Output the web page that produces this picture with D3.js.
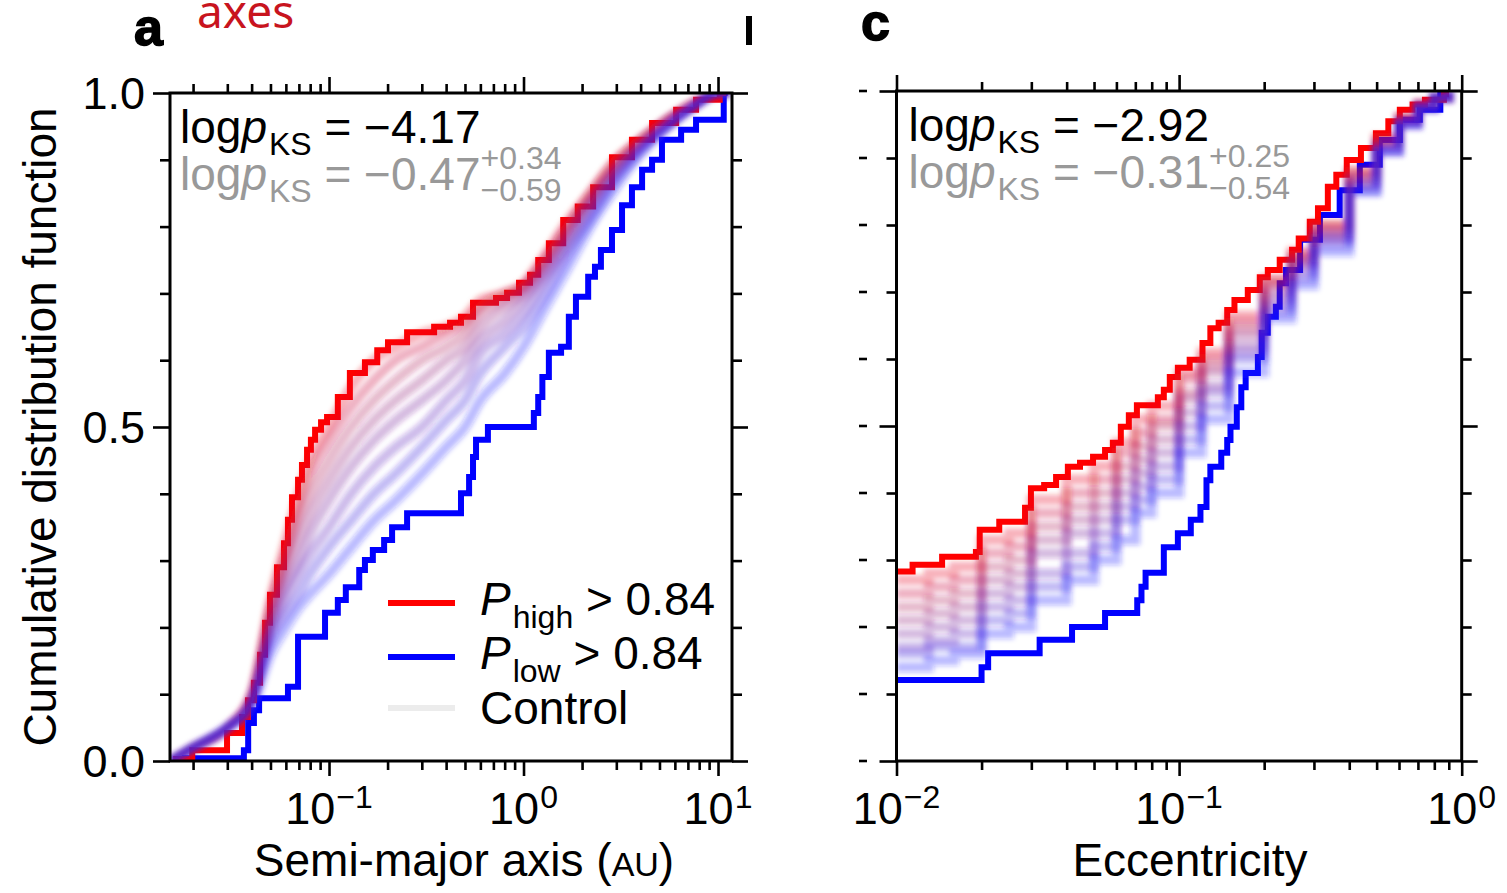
<!DOCTYPE html>
<html>
<head>
<meta charset="utf-8">
<script src="https://cdn.jsdelivr.net/npm/d3@7"></script>
<style>
  body { margin: 0; background: #fff; }
  svg { display: block; font-family: "Liberation Sans", Arial, Helvetica, sans-serif; }
  text { white-space: pre; }
</style>
</head>
<body>
<svg id="chart" width="1507" height="893"></svg>
<script>
// ---- data ----
// panel a: semi-major axis (AU) vs CDF, [a, F] step points
const aHigh = [[0.0158,0.003],[0.0198,0.016],[0.0299,0.042],[0.0357,0.066],[0.0383,0.091],[0.0411,0.117],
  [0.0442,0.159],[0.0469,0.207],[0.0497,0.249],[0.0540,0.290],[0.0587,0.326],[0.0615,0.361],[0.0645,0.395],
  [0.0693,0.421],[0.0726,0.443],[0.0771,0.466],[0.0807,0.481],[0.0848,0.496],[0.0910,0.507],[0.0977,0.515],
  [0.111,0.545],[0.128,0.581],[0.153,0.597],[0.177,0.615],[0.201,0.627],[0.252,0.642],[0.347,0.650],
  [0.419,0.656],[0.477,0.665],[0.550,0.686],[0.722,0.693],[0.823,0.701],[0.948,0.716],[1.08,0.728],
  [1.19,0.750],[1.35,0.775],[1.60,0.810],[1.9,0.830],[2.28,0.859],[2.85,0.904],[3.61,0.930],[4.58,0.955],
  [6.09,0.975],[7.71,0.990],[10.2,1.0],[11.0,1.0]];
const aLow = [[0.0175,0.004],[0.0365,0.016],[0.0384,0.057],[0.0411,0.076],[0.0437,0.094],[0.0615,0.111],
  [0.0693,0.186],[0.0954,0.222],[0.111,0.241],[0.122,0.260],[0.143,0.286],[0.153,0.301],[0.168,0.316],
  [0.192,0.331],[0.211,0.350],[0.252,0.371],[0.477,0.401],[0.525,0.425],[0.550,0.455],[0.570,0.481],
  [0.656,0.500],[1.13,0.521],[1.19,0.545],[1.25,0.575],[1.35,0.611],[1.56,0.620],[1.71,0.665],[1.86,0.695],
  [2.15,0.725],[2.33,0.740],[2.50,0.765],[2.85,0.795],[3.21,0.832],[3.61,0.859],[4.07,0.885],[4.58,0.900],
  [5.15,0.930],[6.46,0.945],[7.71,0.960],[10.7,1.0],[11.2,1.0]];
// control samples: values on a shared grid
const aGrid = [0.0153, 0.02, 0.03, 0.04, 0.05, 0.06, 0.07, 0.08, 0.1, 0.13, 0.17, 0.22, 0.3, 0.4, 0.5,
  0.6, 0.8, 1.0, 1.3, 1.7, 2.2, 3, 4, 5.5, 7.5, 10, 11.5];
const aControl = [
  [0.0,0.02,0.05,0.10,0.24,0.33,0.40,0.45,0.50,0.56,0.60,0.62,0.64,0.65,0.665,0.69,0.70,0.715,0.76,0.81,0.85,0.90,0.93,0.96,0.985,1.0,1.0],
  [0.0,0.02,0.05,0.10,0.23,0.31,0.38,0.43,0.48,0.53,0.57,0.60,0.62,0.64,0.655,0.68,0.70,0.71,0.75,0.80,0.85,0.90,0.93,0.96,0.985,1.0,1.0],
  [0.0,0.02,0.05,0.10,0.22,0.30,0.36,0.40,0.45,0.50,0.54,0.57,0.60,0.62,0.64,0.67,0.69,0.71,0.75,0.80,0.84,0.89,0.93,0.96,0.985,1.0,1.0],
  [0.0,0.02,0.05,0.09,0.21,0.28,0.33,0.37,0.42,0.47,0.51,0.54,0.57,0.60,0.62,0.65,0.68,0.70,0.74,0.79,0.84,0.89,0.92,0.96,0.98,1.0,1.0],
  [0.0,0.02,0.05,0.09,0.20,0.26,0.30,0.34,0.39,0.44,0.48,0.51,0.54,0.57,0.60,0.63,0.66,0.69,0.73,0.78,0.83,0.88,0.92,0.95,0.98,1.0,1.0],
  [0.0,0.02,0.05,0.09,0.19,0.24,0.28,0.31,0.35,0.40,0.44,0.47,0.50,0.54,0.57,0.61,0.64,0.67,0.72,0.77,0.82,0.88,0.92,0.95,0.98,1.0,1.0],
  [0.0,0.02,0.05,0.09,0.18,0.22,0.25,0.28,0.32,0.36,0.40,0.43,0.47,0.51,0.54,0.58,0.62,0.65,0.70,0.76,0.81,0.87,0.91,0.95,0.98,1.0,1.0],
  [0.0,0.02,0.05,0.08,0.16,0.20,0.23,0.25,0.28,0.32,0.36,0.39,0.43,0.47,0.50,0.54,0.58,0.62,0.68,0.74,0.80,0.86,0.91,0.95,0.98,1.0,1.0]
];

// panel c: eccentricity vs CDF
const cHigh = [[0.01,0.283],[0.0114,0.293],[0.0145,0.305],[0.0191,0.312],[0.0197,0.345],[0.0231,0.357],
  [0.0285,0.378],[0.0299,0.407],[0.0333,0.412],[0.0367,0.424],[0.0404,0.439],[0.0446,0.445],[0.0496,0.454],
  [0.0547,0.464],[0.0583,0.475],[0.0622,0.499],[0.0664,0.516],[0.0709,0.531],[0.0841,0.543],[0.0883,0.554],
  [0.0927,0.573],[0.0990,0.587],[0.109,0.599],[0.121,0.624],[0.129,0.646],[0.138,0.654],[0.148,0.673],
  [0.157,0.688],[0.175,0.703],[0.193,0.722],[0.206,0.733],[0.227,0.748],[0.251,0.763],[0.265,0.78],
  [0.29,0.805],[0.31,0.825],[0.336,0.857],[0.36,0.875],[0.392,0.897],[0.44,0.915],[0.497,0.937],
  [0.55,0.955],[0.604,0.972],[0.67,0.98],[0.741,0.987],[0.865,0.995],[0.88,1.0],[0.9,1.0]];
const cLow = [[0.01,0.121],[0.0200,0.140],[0.0211,0.161],[0.0321,0.181],[0.0418,0.200],[0.0547,0.221],
  [0.0711,0.240],[0.0736,0.260],[0.0761,0.281],[0.0883,0.319],[0.0990,0.340],[0.110,0.360],[0.119,0.379],
  [0.125,0.419],[0.129,0.439],[0.141,0.460],[0.148,0.479],[0.152,0.499],[0.160,0.528],[0.166,0.558],
  [0.172,0.579],[0.190,0.603],[0.196,0.639],[0.206,0.663],[0.220,0.678],[0.227,0.713],[0.239,0.733],
  [0.268,0.778],[0.315,0.815],[0.370,0.852],[0.436,0.890],[0.513,0.927],[0.604,0.957],[0.711,0.972],
  [0.84,1.0],[0.86,1.0]];
const cGrid = [0.01, 0.013, 0.016, 0.02, 0.025, 0.03, 0.04, 0.05, 0.06, 0.07, 0.08, 0.1, 0.12, 0.15,
  0.2, 0.25, 0.3, 0.4, 0.5, 0.6, 0.7, 0.8, 0.9];
const cControl = [
  [0.27,0.28,0.29,0.33,0.34,0.39,0.42,0.44,0.475,0.51,0.53,0.58,0.61,0.665,0.72,0.76,0.80,0.88,0.93,0.96,0.98,0.99,1.0],
  [0.25,0.26,0.27,0.31,0.32,0.37,0.40,0.42,0.46,0.49,0.51,0.57,0.60,0.655,0.715,0.755,0.80,0.88,0.93,0.96,0.98,0.99,1.0],
  [0.23,0.24,0.25,0.29,0.30,0.35,0.38,0.40,0.44,0.47,0.50,0.55,0.59,0.645,0.71,0.75,0.79,0.87,0.92,0.96,0.98,0.99,1.0],
  [0.21,0.22,0.23,0.27,0.28,0.33,0.36,0.38,0.42,0.45,0.48,0.54,0.58,0.635,0.70,0.745,0.79,0.87,0.92,0.955,0.98,0.99,1.0],
  [0.19,0.20,0.21,0.25,0.26,0.31,0.34,0.36,0.40,0.43,0.46,0.52,0.56,0.62,0.69,0.74,0.78,0.86,0.92,0.955,0.975,0.99,1.0],
  [0.17,0.18,0.19,0.23,0.24,0.28,0.31,0.34,0.38,0.41,0.44,0.50,0.55,0.61,0.68,0.73,0.78,0.86,0.91,0.95,0.975,0.99,1.0],
  [0.16,0.17,0.17,0.21,0.22,0.26,0.29,0.32,0.36,0.39,0.42,0.48,0.53,0.60,0.67,0.72,0.77,0.85,0.91,0.95,0.975,0.99,1.0],
  [0.14,0.15,0.16,0.19,0.20,0.24,0.27,0.30,0.33,0.37,0.40,0.46,0.51,0.58,0.66,0.71,0.76,0.85,0.91,0.95,0.975,0.99,1.0]
];

// ticks and labels
const aMajor = [0.1, 1, 10];
const aMinor = [0.02,0.03,0.04,0.05,0.06,0.07,0.08,0.09,0.2,0.3,0.4,0.5,0.6,0.7,0.8,0.9,2,3,4,5,6,7,8,9];
const aTickExp = ["\u22121", "0", "1"];
const cMajor = [0.01, 0.1, 1];
const cMinor = [0.02,0.03,0.04,0.05,0.06,0.07,0.08,0.09,0.2,0.3,0.4,0.5,0.6,0.7,0.8,0.9];
const cTickExp = ["\u22122", "\u22121", "0"];
const yMajor = [0, 0.5, 1];
const yMinor = [0.1, 0.2, 0.3, 0.4, 0.6, 0.7, 0.8, 0.9];
const yTickText = ["0.0", "0.5", "1.0"];

const ksA = { value: "\u22124.17", ctrl: "\u22120.47", up: "+0.34", down: "\u22120.59" };
const ksC = { value: "\u22122.92", ctrl: "\u22120.31", up: "+0.25", down: "\u22120.54" };

const RED = "#ff0000", BLUE = "#0000ff", GREY = "#999999";

// ---- drawing ----
const svg = d3.select("#chart");
const defs = svg.append("defs");
defs.append("filter").attr("id", "soft").attr("x", "-5%").attr("y", "-5%")
  .attr("width", "110%").attr("height", "110%")
  .append("feGaussianBlur").attr("stdDeviation", 2.4);

function text(g, x, y, str, size, opt = {}) {
  return g.append("text").attr("x", x).attr("y", y).attr("font-size", size)
    .attr("fill", opt.fill || "#000")
    .attr("font-style", opt.italic ? "italic" : null)
    .attr("font-weight", opt.bold ? "bold" : null)
    .attr("text-anchor", opt.anchor || null)
    .text(str);
}

// runs of text placed one after another (mathtext-like)
function rich(g, x, y, parts, fill) {
  let cx = x;
  parts.forEach(p => {
    const t = text(g, cx, y + (p.dy || 0), p.t, p.size || 46, { fill, italic: p.italic });
    const w = t.node().getComputedTextLength();
    if (!p.stay) cx += w + (p.gap || 0);
  });
  return cx;
}

function ksText(g, x, y1, y2, ks) {
  rich(g, x, y1, [
    { t: "log" }, { t: "p", italic: true, gap: 2 }, { t: "KS", size: 32, dy: 12 }, { t: " = " + ks.value }
  ], "#000");
  rich(g, x, y2, [
    { t: "log" }, { t: "p", italic: true, gap: 2 }, { t: "KS", size: 32, dy: 12 }, { t: " = " + ks.ctrl },
    { t: ks.up, size: 32, dy: -21, stay: true }, { t: ks.down, size: 32, dy: 11 }
  ], GREY);
}

function powLabel(g, x, y, exp) {
  const lab = g.append("g");
  const t1 = text(lab, 0, y, "10", 45);
  const w1 = t1.node().getComputedTextLength();
  const t2 = text(lab, w1 + 1, y - 16, exp, 32);
  const w2 = t2.node().getComputedTextLength();
  lab.attr("transform", `translate(${x - (w1 + 1 + w2) / 2},0)`);
}

function tickGroup(g, axis, scale, values, size, tr) {
  g.append("g").attr("transform", tr)
    .call(axis(scale).tickValues(values).tickSize(size).tickFormat(""))
    .call(s => s.select(".domain").remove())
    .call(s => s.selectAll("line").attr("stroke", "#000").attr("stroke-width", 2.6));
}

function drawPanel(p) {
  const [x0, x1] = p.x.range();
  const [y1, y0] = p.y.range();
  const g = svg.append("g");

  defs.append("clipPath").attr("id", "clip-" + p.id).append("rect")
    .attr("x", x0).attr("y", y0).attr("width", x1 - x0).attr("height", y1 - y0);
  const plot = g.append("g").attr("clip-path", `url(#clip-${p.id})`);

  const step = d3.line().curve(d3.curveStepAfter).x(d => p.x(d[0])).y(d => p.y(d[1]));
  plot.append("path").attr("d", step(p.low)).attr("fill", "none")
    .attr("stroke", BLUE).attr("stroke-width", 6);
  plot.append("path").attr("d", step(p.high)).attr("fill", "none")
    .attr("stroke", RED).attr("stroke-width", 6);

  // control ensemble drawn on top, translucent
  const ctrlLine = d3.line().curve(p.ctrlCurve).x((d, i) => p.x(p.grid[i])).y(d => p.y(d));
  const col = d3.interpolateRgb("#e8101a", "#2020ff");
  const cg = plot.append("g").attr("filter", "url(#soft)");
  p.control.forEach((c, i) => {
    cg.append("path").attr("d", ctrlLine(c)).attr("fill", "none")
      .attr("stroke", col(i / (p.control.length - 1)))
      .attr("stroke-opacity", 0.3).attr("stroke-width", 10);
  });

  // ticks, all pointing outward
  tickGroup(g, d3.axisBottom, p.x, p.minor, 9, `translate(0,${y1})`);
  tickGroup(g, d3.axisBottom, p.x, p.major, 15, `translate(0,${y1})`);
  tickGroup(g, d3.axisTop, p.x, p.minor, 9, `translate(0,${y0})`);
  tickGroup(g, d3.axisTop, p.x, p.major, 16, `translate(0,${y0})`);
  tickGroup(g, d3.axisLeft, p.y, yMinor, 10, `translate(${x0},0)`);
  tickGroup(g, d3.axisLeft, p.y, yMajor, 17, `translate(${x0},0)`);
  tickGroup(g, d3.axisRight, p.y, yMinor, 10, `translate(${x1},0)`);
  tickGroup(g, d3.axisRight, p.y, yMajor, 16, `translate(${x1},0)`);

  g.append("rect").attr("x", x0).attr("y", y0).attr("width", x1 - x0).attr("height", y1 - y0)
    .attr("fill", "none").attr("stroke", "#000").attr("stroke-width", 3);

  p.major.forEach((v, i) => powLabel(g, p.x(v), 824, p.exps[i]));
  ksText(g, x0 + p.ksDx, y0 + 50, y0 + 97, p.ks);
  return g;
}

// panel a
const xA = d3.scaleLog().domain([0.01522, 11.8]).range([170, 732]);
const yA = d3.scaleLinear().domain([0, 1]).range([761, 93]);
const gA = drawPanel({ id: "a", x: xA, y: yA, high: aHigh, low: aLow, grid: aGrid, control: aControl,
  ctrlCurve: d3.curveMonotoneX, major: aMajor, minor: aMinor, exps: aTickExp, ks: ksA, ksDx: 10 });

// panel c
const xC = d3.scaleLog().domain([0.01, 1]).range([896.5, 1461.7]);
const yC = d3.scaleLinear().domain([0, 1]).range([761, 91]);
const gC = drawPanel({ id: "c", x: xC, y: yC, high: cHigh, low: cLow, grid: cGrid, control: cControl,
  ctrlCurve: d3.curveStepAfter, major: cMajor, minor: cMinor, exps: cTickExp, ks: ksC, ksDx: 12 });

// y tick labels (panel a only)
yMajor.forEach((v, i) => text(gA, 145, yA(v) + 16, yTickText[i], 45, { anchor: "end" }));

// axis titles
text(gA, 0, 56, "Cumulative distribution function", 46, { anchor: "middle" })
  .attr("transform", `translate(0,${(yA(0) + yA(1)) / 2}) rotate(-90)`);
const xt = gA.append("text").attr("font-size", 46).attr("text-anchor", "middle")
  .attr("x", 464).attr("y", 876);
xt.append("tspan").text("Semi-major axis (");
xt.append("tspan").attr("font-size", 34).text("AU");
xt.append("tspan").text(")");
text(gC, 1190, 876, "Eccentricity", 46, { anchor: "middle" });

// legend
const legend = gA.append("g");
const legendRows = [
  { color: RED, y: 603, sub: "high" },
  { color: BLUE, y: 657, sub: "low" },
  { color: "#ececec", y: 708, label: "Control" }
];
legendRows.forEach(r => {
  legend.append("line").attr("x1", 388).attr("x2", 455).attr("y1", r.y).attr("y2", r.y)
    .attr("stroke", r.color).attr("stroke-width", 6);
  if (r.label) {
    text(legend, 480, r.y + 16, r.label, 46);
  } else {
    rich(legend, 480, r.y + 12, [
      { t: "P", italic: true, gap: 2 }, { t: r.sub, size: 32, dy: 13 }, { t: " > 0.84" }
    ], "#000");
  }
});

// panel letters and leftovers of the cropped panel b
text(svg, 134, 45, "a", 52, { bold: true }).attr("stroke", "#000").attr("stroke-width", 1.5);
text(svg, 861, 40, "c", 52, { bold: true }).attr("stroke", "#000").attr("stroke-width", 1.5);
svg.append("rect").attr("x", 746).attr("y", 16).attr("width", 6).attr("height", 29).attr("fill", "#000");
[...yMajor, ...yMinor].forEach(v => {
  svg.append("line").attr("x1", 859).attr("x2", 867).attr("y1", yC(v)).attr("y2", yC(v))
    .attr("stroke", "#000").attr("stroke-width", 2.6);
});

// red annotation word at the top
svg.append("text").attr("x", 197).attr("y", 28).attr("font-size", 46)
  .attr("font-family", "'Noto Sans', 'Open Sans', sans-serif").attr("fill", "#c8141e").text("axes");
</script>
</body>
</html>
